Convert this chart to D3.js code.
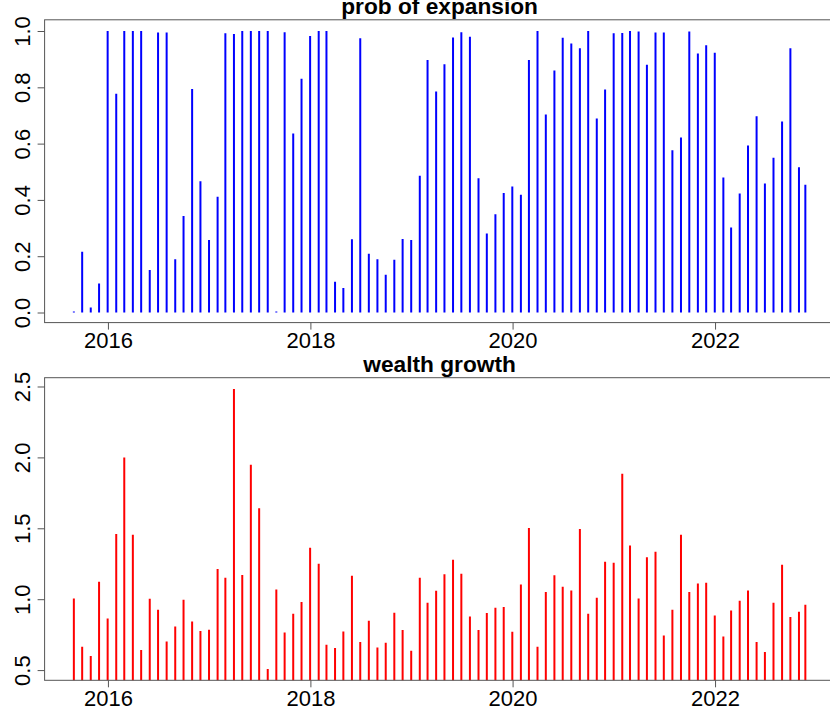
<!DOCTYPE html>
<html>
<head>
<meta charset="utf-8">
<script src="https://cdn.jsdelivr.net/npm/d3@7"></script>
<style>
  body { margin: 0; background: #fff; }
  svg { display: block; font-family: "Liberation Sans", Arial, sans-serif; }
</style>
</head>
<body>
<script>
// month-end dates, last one is a partial month
let dates = [
  "2015-08-31","2015-09-30","2015-10-31","2015-11-30","2015-12-31",
  "2016-01-31","2016-02-29","2016-03-31","2016-04-30","2016-05-31","2016-06-30","2016-07-31","2016-08-31","2016-09-30","2016-10-31","2016-11-30","2016-12-31",
  "2017-01-31","2017-02-28","2017-03-31","2017-04-30","2017-05-31","2017-06-30","2017-07-31","2017-08-31","2017-09-30","2017-10-31","2017-11-30","2017-12-31",
  "2018-01-31","2018-02-28","2018-03-31","2018-04-30","2018-05-31","2018-06-30","2018-07-31","2018-08-31","2018-09-30","2018-10-31","2018-11-30","2018-12-31",
  "2019-01-31","2019-02-28","2019-03-31","2019-04-30","2019-05-31","2019-06-30","2019-07-31","2019-08-31","2019-09-30","2019-10-31","2019-11-30","2019-12-31",
  "2020-01-31","2020-02-29","2020-03-31","2020-04-30","2020-05-31","2020-06-30","2020-07-31","2020-08-31","2020-09-30","2020-10-31","2020-11-30","2020-12-31",
  "2021-01-31","2021-02-28","2021-03-31","2021-04-30","2021-05-31","2021-06-30","2021-07-31","2021-08-31","2021-09-30","2021-10-31","2021-11-30","2021-12-31",
  "2022-01-31","2022-02-28","2022-03-31","2022-04-30","2022-05-31","2022-06-30","2022-07-31","2022-08-31","2022-09-30","2022-10-31","2022-11-23"
];

let probExpansion = [
  0.004, 0.216, 0.018, 0.103, 1.000,
  0.777, 1.000, 1.000, 1.000, 0.151, 0.995, 0.995, 0.189, 0.343, 0.794, 0.466, 0.258,
  0.411, 0.992, 0.989, 1.000, 1.000, 1.000, 1.000, 0.004, 0.996, 0.636, 0.830, 0.982,
  1.000, 1.000, 0.109, 0.087, 0.260, 0.974, 0.209, 0.189, 0.134, 0.187, 0.261, 0.258,
  0.486, 0.897, 0.785, 0.882, 0.977, 0.996, 0.980, 0.477, 0.281, 0.349, 0.425, 0.448,
  0.418, 0.897, 1.000, 0.703, 0.860, 0.976, 0.956, 0.939, 1.000, 0.689, 0.792, 0.992,
  0.993, 1.000, 0.998, 0.880, 0.995, 0.995, 0.576, 0.622, 0.998, 0.920, 0.949, 0.923,
  0.480, 0.302, 0.423, 0.593, 0.697, 0.458, 0.550, 0.679, 0.939, 0.516, 0.454
];

let wealthGrowth = [
  1.005, 0.664, 0.599, 1.123, 0.864,
  1.460, 2.000, 1.455, 0.641, 1.003, 0.926, 0.702, 0.808, 0.996, 0.843, 0.775, 0.784,
  1.213, 1.151, 2.483, 1.170, 1.949, 1.641, 0.507, 1.069, 0.765, 0.897, 0.980, 1.363,
  1.250, 0.679, 0.655, 0.772, 1.166, 0.698, 0.848, 0.660, 0.693, 0.904, 0.782, 0.636,
  1.151, 0.975, 1.060, 1.175, 1.278, 1.180, 0.878, 0.782, 0.902, 0.940, 0.945, 0.770,
  1.104, 1.502, 0.664, 1.050, 1.168, 1.088, 1.062, 1.495, 0.897, 1.010, 1.264, 1.257,
  1.885, 1.379, 1.005, 1.295, 1.335, 0.744, 0.926, 1.455, 1.050, 1.111, 1.116, 0.885,
  0.737, 0.921, 0.989, 1.062, 0.698, 0.627, 0.975, 1.243, 0.874, 0.911, 0.961
];

let yearTicks = ["2016-01-01", "2018-01-01", "2020-01-01", "2022-01-01"];
let probTicks = [0, 0.2, 0.4, 0.6, 0.8, 1.0];
let wealthTicks = [0.5, 1.0, 1.5, 2.0, 2.5];

let w = 830, h = 715;
let left = 44.6, right = 834.6;

let parse = d3.timeParse("%Y-%m-%d");
let times = dates.map(parse);

// R style 4% padding on both ends
function padded(ext) {
  let r = ext[1] - ext[0];
  return [ext[0] - r * 0.04, ext[1] + r * 0.04];
}

let tExt = d3.extent(times);
let tPad = (tExt[1] - tExt[0]) * 0.04;
let x = d3.scaleTime()
  .domain([new Date(+tExt[0] - tPad), new Date(+tExt[1] + tPad)])
  .range([left, right]);

let svg = d3.select("body").append("svg")
  .attr("width", w)
  .attr("height", h);

svg.append("rect").attr("width", w).attr("height", h).attr("fill", "#fff");

function panel(id, values, ticks, top, bottom, color, title) {
  let y = d3.scaleLinear()
    .domain(padded(d3.extent(values)))
    .range([bottom, top]);

  svg.append("clipPath").attr("id", id)
    .append("rect")
    .attr("x", left).attr("y", top)
    .attr("width", right - left).attr("height", bottom - top);

  let g = svg.append("g");

  g.append("g")
    .attr("clip-path", "url(#" + id + ")")
    .selectAll("line")
    .data(values)
    .enter()
    .append("line")
    .attr("x1", function(d, i) { return x(times[i]); })
    .attr("x2", function(d, i) { return x(times[i]); })
    .attr("y1", y(0))
    .attr("y2", function(d) { return y(d); })
    .attr("stroke", color)
    .attr("stroke-width", 2);

  // box
  g.append("rect")
    .attr("x", left).attr("y", top)
    .attr("width", right - left).attr("height", bottom - top)
    .attr("fill", "none")
    .attr("stroke", "#555")
    .attr("stroke-width", 1);

  let yAxis = g.append("g")
    .attr("transform", "translate(" + left + ",0)")
    .call(d3.axisLeft(y).tickValues(ticks).tickSize(7).tickSizeOuter(0)
      .tickFormat(d3.format(".1f")));
  yAxis.select(".domain").remove();
  yAxis.selectAll("line").attr("stroke", "#555");
  yAxis.selectAll("text")
    .attr("transform", "rotate(-90)")
    .attr("x", 0)
    .attr("y", -15)
    .attr("dy", 0)
    .attr("text-anchor", "middle")
    .attr("fill", "#000")
    .style("font-size", "22px");

  let xAxis = g.append("g")
    .attr("transform", "translate(0," + bottom + ")")
    .call(d3.axisBottom(x).tickValues(yearTicks.map(parse)).tickSize(7).tickSizeOuter(0)
      .tickFormat(d3.timeFormat("%Y")));
  xAxis.select(".domain").remove();
  xAxis.selectAll("line").attr("stroke", "#555");
  xAxis.selectAll("text")
    .attr("y", 25.5)
    .attr("dy", 0)
    .attr("fill", "#000")
    .style("font-size", "22px");

  g.append("text")
    .attr("x", (left + right) / 2)
    .attr("y", top - 5.5)
    .attr("text-anchor", "middle")
    .style("font-size", "22.7px")
    .style("font-weight", "bold")
    .text(title);
}

panel("clipTop", probExpansion, probTicks, 19.8, 322.6, "#0000ff", "prob of expansion");
panel("clipBottom", wealthGrowth, wealthTicks, 377.7, 680.3, "#ff0000", "wealth growth");
</script>
</body>
</html>
